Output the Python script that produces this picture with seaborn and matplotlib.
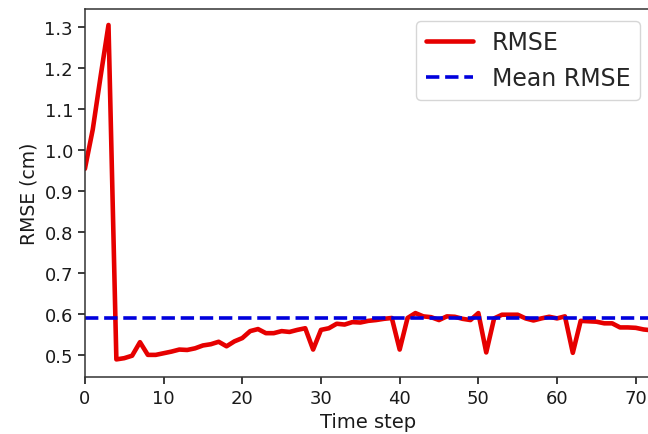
import numpy as np
import pandas as pd
import matplotlib
matplotlib.use("Agg")
import matplotlib.pyplot as plt
import seaborn as sns

# RMSE per time step (cm)
time_step = list(range(73))
rmse = [
    0.954, 1.050, 1.180, 1.305, 0.489, 0.492, 0.498, 0.531, 0.500, 0.500,
    0.504, 0.508, 0.513, 0.512, 0.516, 0.523, 0.526, 0.532, 0.521, 0.533,
    0.541, 0.558, 0.563, 0.553, 0.553, 0.558, 0.556, 0.561, 0.565, 0.513,
    0.561, 0.565, 0.576, 0.574, 0.580, 0.579, 0.583, 0.585, 0.588, 0.590,
    0.513, 0.590, 0.602, 0.594, 0.592, 0.585, 0.594, 0.593, 0.588, 0.585,
    0.602, 0.506, 0.589, 0.598, 0.598, 0.598, 0.589, 0.584, 0.589, 0.593,
    0.589, 0.594, 0.505, 0.583, 0.582, 0.581, 0.577, 0.577, 0.567, 0.567,
    0.566, 0.562, 0.560,
]
mean_rmse = 0.59

df = pd.DataFrame({"Time step": time_step, "RMSE": rmse})

sns.set_style("ticks")
plt.rcParams["font.family"] = ["DejaVu Sans"]
plt.rcParams["axes.edgecolor"] = "#333333"
plt.rcParams["xtick.color"] = "#1a1a1a"
plt.rcParams["ytick.color"] = "#1a1a1a"

fig = plt.figure(figsize=(6.48, 4.35), dpi=100)
ax = fig.add_axes([0.131, 0.131, 0.8744, 0.846])

sns.lineplot(data=df, x="Time step", y="RMSE", ax=ax, color="#e60000",
             linewidth=3.3, label="RMSE")
ax.axhline(mean_rmse, color="#0000dd", linestyle="--", linewidth=2.6,
           label="Mean RMSE")

ax.set_xlim(0, 72)
ax.set_ylim(0.446, 1.344)
ax.set_xticks([0, 10, 20, 30, 40, 50, 60, 70])
ax.set_yticks([0.5, 0.6, 0.7, 0.8, 0.9, 1.0, 1.1, 1.2, 1.3])
ax.tick_params(labelsize=13, width=1.2, length=5)
ax.set_xlabel("Time step", fontsize=14, color="#1a1a1a")
ax.set_ylabel("RMSE (cm)", fontsize=13.5, color="#1a1a1a")
for s in ax.spines.values():
    s.set_linewidth(1.1)
ax.spines["right"].set_visible(False)

ax.legend(loc="upper right", fontsize=17, frameon=True)

fig.savefig("out.png", dpi=100)
